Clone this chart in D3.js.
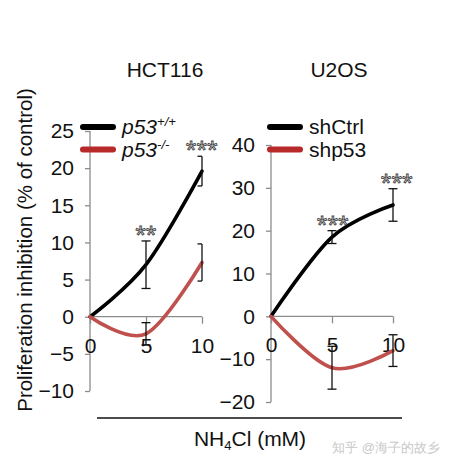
<!DOCTYPE html>
<html>
<head>
<meta charset="utf-8">
<script src="https://cdn.jsdelivr.net/npm/d3@7"></script>
<style>
  body { margin: 0; background: #fff; }
  svg text { font-family: "Liberation Sans", Arial, sans-serif; }
</style>
</head>
<body>
<div id="chart"></div>
<script>
// ---- data ----
const doses = [0, 5, 10];

// HCT116
const hctWT   = [0, 7, 19.6];
const hctWTErr = [0, 3.2, 2];
const hctKO   = [0, -2.3, 7.3];
const hctKOErr = [0, 1.5, 2.5];
const hctStars = ['', '**', '***'];
const hctTicks = [-10, -5, 0, 5, 10, 15, 20, 25];

// U2OS
const u2Ctrl   = [0, 18.5, 26];
const u2CtrlErr = [0, 1.5, 3.8];
const u2Sh     = [0, -12, -8];
const u2ShErr  = [0, 5, 3.7];
const u2Stars  = ['', '***', '***'];
const u2Ticks  = [-20, -10, 0, 10, 20, 30, 40];

const xTicks = [0, 5, 10];

const BLACK = '#000';
const RED = '#c0504d';
const RED_LEG = '#b8292a';
const AXIS = '#8c8c8c';
const FS = 21;

const W = 453, H = 467;
const svg = d3.select('#chart').append('svg').attr('width', W).attr('height', H);

function panel(opt) {
  const x = d3.scaleLinear().domain([0, 10]).range(opt.xr);
  const y = d3.scaleLinear().domain(opt.yd).range(opt.yr);
  const g = svg.append('g');

  // y axis
  const yAx = g.append('g').attr('transform', `translate(${opt.xr[0]},0)`)
    .call(d3.axisLeft(y).tickValues(opt.ticks).tickSize(5).tickPadding(11).tickFormat(d3.format('d')));
  yAx.select('.domain').attr('stroke', AXIS).attr('stroke-width', 1.3)
    .attr('d', `M0,${opt.yr[0]}V${opt.yr[1]}`);
  yAx.selectAll('.tick line').attr('stroke', AXIS).attr('stroke-width', 1.3);
  yAx.selectAll('.tick text').attr('font-size', FS).attr('fill', '#111')
    .attr('font-family', '"Liberation Sans", Arial, sans-serif');

  // x axis at y = 0
  const xAx = g.append('g').attr('transform', `translate(0,${y(0)})`)
    .call(d3.axisBottom(x).tickValues(xTicks).tickSize(7).tickPadding(14).tickFormat(d3.format('d')));
  xAx.select('.domain').attr('stroke', AXIS).attr('stroke-width', 1.3).attr('d', `M${opt.xr[0]},0H${opt.xr[1]}`);
  xAx.selectAll('.tick line').attr('stroke', AXIS).attr('stroke-width', 1.3);
  xAx.selectAll('.tick text').attr('font-size', FS).attr('fill', '#111')
    .attr('font-family', '"Liberation Sans", Arial, sans-serif');

  const line = d3.line()
    .x((d, i) => x(doses[i]))
    .y(d => y(d))
    .curve(d3.curveCatmullRom.alpha(0));

  opt.series.forEach(s => {
    g.append('path').datum(s.vals)
      .attr('d', line).attr('fill', 'none')
      .attr('stroke', s.color).attr('stroke-width', 3.6)
      .attr('stroke-linecap', 'round');
  });

  // error bars
  opt.series.forEach(s => {
    s.vals.forEach((v, i) => {
      const e = s.err[i];
      if (!e) return;
      const cx = x(doses[i]);
      const capR = opt.halfCapAtEnd && i === doses.length - 1 ? 0 : 4.5;
      const eg = g.append('g').attr('stroke', '#111').attr('stroke-width', 1.3);
      eg.append('line').attr('x1', cx).attr('x2', cx).attr('y1', y(v + e)).attr('y2', y(v - e));
      [v + e, v - e].forEach(t => {
        eg.append('line').attr('x1', cx - 4.5).attr('x2', cx + capR)
          .attr('y1', y(t)).attr('y2', y(t));
      });
    });
  });

  // significance stars above the upper series
  const top = opt.series[0];
  opt.stars.forEach((s, i) => {
    if (!s) return;
    g.append('text')
      .attr('x', x(doses[i]) + (opt.starDx[i] || 0))
      .attr('y', y(top.vals[i] + top.err[i]) + 3)
      .attr('text-anchor', 'middle')
      .attr('font-size', 26)
      .attr('letter-spacing', 0.5)
      .attr('fill', '#fff').attr('stroke', '#444').attr('stroke-width', 0.9)
      .text(s);
  });

  // title
  g.append('text').attr('x', opt.titleX).attr('y', 77)
    .attr('text-anchor', 'middle').attr('font-size', FS).attr('fill', '#111')
    .text(opt.title);

  // legend
  opt.series.forEach((s, i) => {
    const ly = 127 + i * 22.5;
    g.append('line').attr('x1', opt.legX).attr('x2', opt.legX + 30)
      .attr('y1', ly).attr('y2', ly)
      .attr('stroke', i === 0 ? BLACK : RED_LEG).attr('stroke-width', 6)
      .attr('stroke-linecap', 'round');
    const t = g.append('text').attr('x', opt.legX + 39).attr('y', ly + 7)
      .attr('font-size', FS).attr('fill', '#111');
    if (s.sup !== undefined) {
      t.append('tspan').attr('font-style', 'italic').text(s.name);
      t.append('tspan').attr('font-style', 'italic').attr('font-size', 13)
        .attr('dy', -8).text(s.sup);
    } else {
      t.text(s.name);
    }
  });
}

panel({
  xr: [90, 202], yd: [-10, 25], yr: [391, 131], ticks: hctTicks,
  title: 'HCT116', titleX: 165, legX: 83, halfCapAtEnd: true,
  stars: hctStars, starDx: [0, 0, 0],
  series: [
    { name: 'p53', sup: '+/+', vals: hctWT, err: hctWTErr, color: BLACK },
    { name: 'p53', sup: '-/-', vals: hctKO, err: hctKOErr, color: RED }
  ]
});

panel({
  xr: [271, 393], yd: [-20, 40], yr: [402, 145], ticks: u2Ticks,
  title: 'U2OS', titleX: 339, legX: 270, halfCapAtEnd: false,
  stars: u2Stars, starDx: [0, 1, 4],
  series: [
    { name: 'shCtrl', vals: u2Ctrl, err: u2CtrlErr, color: BLACK },
    { name: 'shp53', vals: u2Sh, err: u2ShErr, color: RED }
  ]
});

// shared x label with bracket line
svg.append('line').attr('x1', 97).attr('x2', 402).attr('y1', 418).attr('y2', 418)
  .attr('stroke', '#111').attr('stroke-width', 1.5);
const xl = svg.append('text').attr('x', 250).attr('y', 446)
  .attr('text-anchor', 'middle').attr('font-size', FS).attr('fill', '#111');
xl.append('tspan').text('NH');
xl.append('tspan').attr('font-size', 13).attr('dy', 4).text('4');
xl.append('tspan').attr('dy', -4).text('Cl (mM)');

// y label
svg.append('text')
  .attr('transform', 'translate(32,250) rotate(-90)')
  .attr('text-anchor', 'middle').attr('font-size', 20.5).attr('fill', '#111')
  .text('Proliferation inhibition (% of control)');

// watermark
svg.append('text').attr('x', 440).attr('y', 452).attr('text-anchor', 'end')
  .attr('font-size', 13).attr('fill', '#c8c8c8')
  .attr('font-family', '"Noto Sans CJK SC", sans-serif')
  .text('知乎 @海子的故乡');
</script>
</body>
</html>
